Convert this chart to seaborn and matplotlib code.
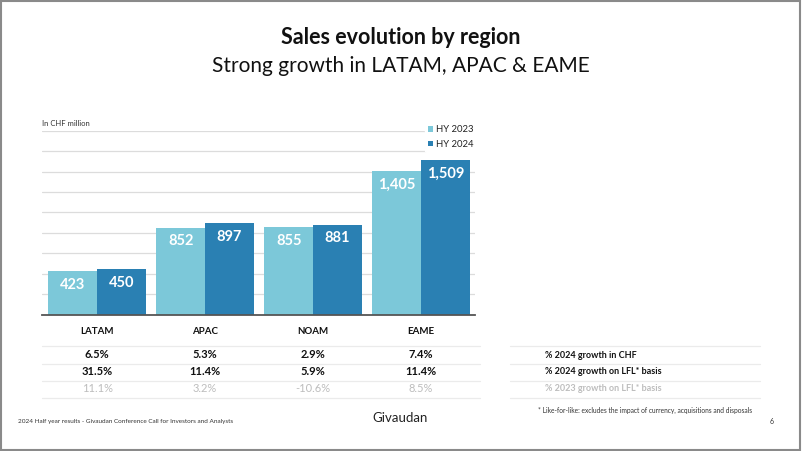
import matplotlib
matplotlib.use("Agg")
import matplotlib.pyplot as plt
import matplotlib.transforms as mtransforms
from matplotlib.lines import Line2D
from matplotlib.patches import Rectangle
import pandas as pd
import seaborn as sns

# data
regions = ["LATAM", "APAC", "NOAM", "EAME"]
hy2023 = [423, 852, 855, 1405]
hy2024 = [450, 897, 881, 1509]
growth_chf = ["6.5%", "5.3%", "2.9%", "7.4%"]
growth_lfl_2024 = ["31.5%", "11.4%", "5.9%", "11.4%"]
growth_lfl_2023 = ["11.1%", "3.2%", "-10.6%", "8.5%"]
row_labels = ["% 2024 growth in CHF", "% 2024 growth on LFL* basis",
              "% 2023 growth on LFL* basis"]

LIGHT = "#7CC8D9"
DARK = "#2A80B3"
GREY_TXT = "#BDBDBD"

df = pd.DataFrame({
    "region": regions * 2,
    "period": ["HY 2023"] * 4 + ["HY 2024"] * 4,
    "sales": hy2023 + hy2024,
})

sns.set_theme(style="white")
plt.rcParams["font.family"] = ["Lato", "DejaVu Sans"]

fig = plt.figure(figsize=(8.02, 4.51), dpi=100)
ax = fig.add_axes([42 / 802, 1 - 314.7 / 451, 433 / 802, 184 / 451])

sns.barplot(data=df, x="region", y="sales", hue="period",
            palette=[LIGHT, DARK], width=0.9, gap=0, saturation=1,
            edgecolor="none", linewidth=0, ax=ax, zorder=2)

ax.set_ylim(0, 1800)
ax.set_xlim(-0.51, 3.5)
ax.set_yticks(range(200, 1801, 200))
ax.yaxis.grid(True, color="#DCDCDC", linewidth=0.9, zorder=0)
ax.set_axisbelow(True)
ax.tick_params(axis="y", left=False, labelleft=False)
ax.tick_params(axis="x", bottom=False, pad=3)
for lab in ax.get_xticklabels():
    lab.set_fontweight("bold")
    lab.set_fontsize(7)
    lab.set_color("#111111")
ax.set_xlabel("")
ax.set_ylabel("")
sns.despine(ax=ax, left=True, top=True, right=True)
ax.spines["bottom"].set_color("#555555")
ax.spines["bottom"].set_linewidth(1.3)

for cont, vals in zip(ax.containers, [hy2023, hy2024]):
    ax.bar_label(cont, labels=[f"{v:,}" for v in vals], padding=-15,
                 color="white", fontweight="bold", fontsize=10.5)

leg = ax.legend(loc="upper left", bbox_to_anchor=(0.885, 1.045),
                frameon=True, fontsize=6.8, handlelength=0.5,
                handleheight=0.5, handletextpad=0.3, labelspacing=0.6,
                borderpad=0.3, borderaxespad=0)
leg.get_frame().set_facecolor("white")
leg.get_frame().set_edgecolor("white")
leg.get_frame().set_alpha(1)
for t in leg.get_texts():
    t.set_color("#222222")

fig.text(42 / 802, 1 - 123 / 451, "In CHF million", fontsize=5.5,
         color="#333333", va="center")

# titles
fig.text(0.5, 1 - 38 / 451, "Sales evolution by region", ha="center",
         va="center", fontsize=15.5, fontweight="bold", color="#111111")
fig.text(0.5, 1 - 66 / 451, "Strong growth in LATAM, APAC & EAME",
         ha="center", va="center", fontsize=15, color="#111111")

# growth table below the bars, columns follow the bar groups
trans = mtransforms.blended_transform_factory(ax.transData, fig.transFigure)
row_y = [355, 371.5, 388.5]
rows = [growth_chf, growth_lfl_2024, growth_lfl_2023]
colors = ["#111111", "#111111", GREY_TXT]
weights = ["bold", "bold", "normal"]
for y, vals, c, w in zip(row_y, rows, colors, weights):
    for i, v in enumerate(vals):
        ax.text(i, 1 - y / 451, v, transform=trans, ha="center", va="center",
                fontsize=8, fontweight=w, color=c, clip_on=False)

for label, y, c in zip(row_labels, row_y, colors):
    fig.text(545 / 802, 1 - y / 451, label, ha="left", va="center",
             fontsize=6.5, fontweight="bold", color=c)

for y in [346, 363.5, 380.5, 398]:
    fig.add_artist(Line2D([42 / 802, 480 / 802], [1 - y / 451] * 2,
                          color="#EBEBEB", linewidth=0.9))
    fig.add_artist(Line2D([510 / 802, 760 / 802], [1 - y / 451] * 2,
                          color="#EBEBEB", linewidth=0.9))

# footer
fig.text(752 / 802, 1 - 410 / 451,
         "* Like-for-like: excludes the impact of currency, acquisitions and disposals",
         ha="right", va="center", fontsize=4.8, color="#333333")
fig.text(18 / 802, 1 - 421 / 451,
         "2024 Half year results - Givaudan Conference Call for Investors and Analysts",
         ha="left", va="center", fontsize=4.6, color="#333333")
fig.text(400 / 802, 1 - 418 / 451, "Givaudan", ha="center", va="center",
         fontsize=9.5, color="#222222")
fig.text(772 / 802, 1 - 421 / 451, "6", ha="center", va="center",
         fontsize=5, color="#333333")

fig.add_artist(Rectangle((0.001, 0.002), 0.997, 0.996, transform=fig.transFigure,
                         fill=False, edgecolor="#8A8A8A", linewidth=1.5))

fig.savefig("out.png", dpi=100)
